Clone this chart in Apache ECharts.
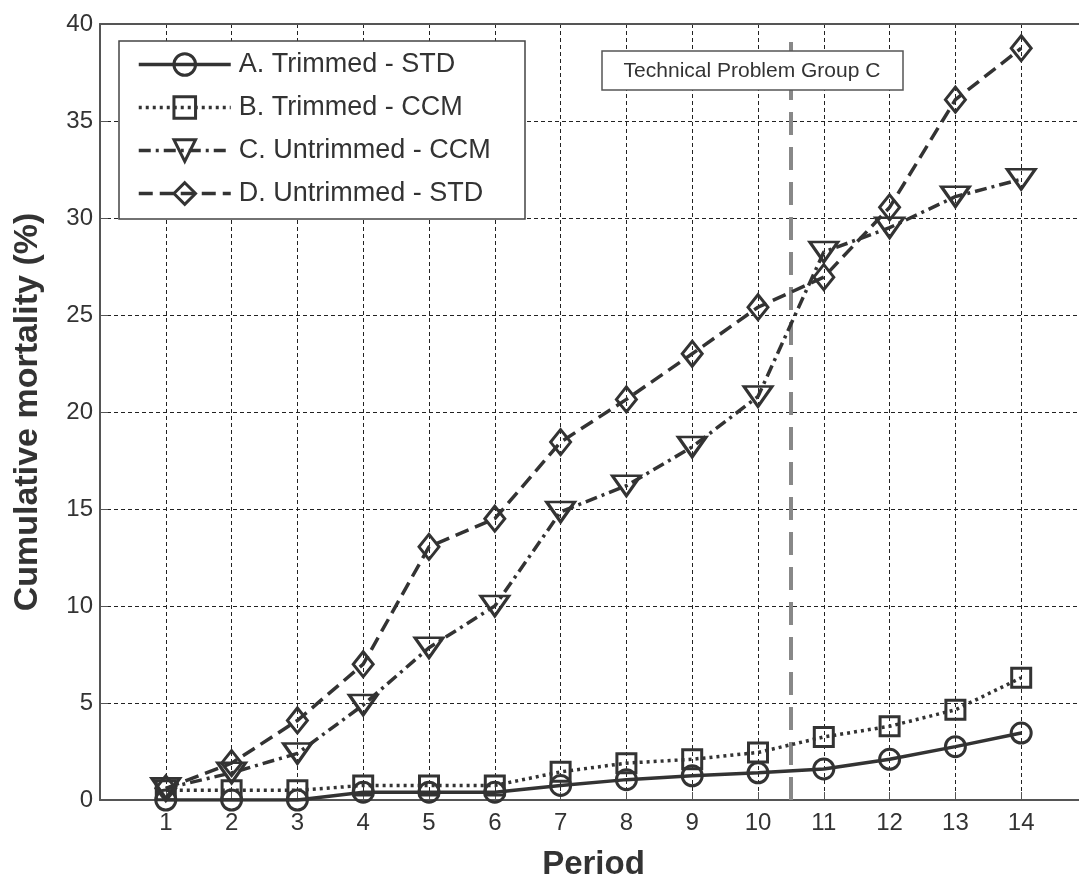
<!DOCTYPE html>
<html><head><meta charset="utf-8">
<script src="https://cdn.jsdelivr.net/npm/echarts@6/dist/echarts.min.js"></script>
<style>html,body{margin:0;padding:0;background:#fff;overflow:hidden}#c{width:1079px;height:881px}</style>
</head><body><div id="c"></div>
<script>
const periods = [1,2,3,4,5,6,7,8,9,10,11,12,13,14];
const seriesNames = ['A. Trimmed - STD','B. Trimmed - CCM','C. Untrimmed - CCM','D. Untrimmed - STD'];
const trimmedSTD   = [0,0,0,0.4,0.4,0.4,0.75,1.05,1.25,1.4,1.6,2.1,2.75,3.45];
const trimmedCCM   = [0.5,0.5,0.5,0.75,0.75,0.75,1.45,1.9,2.1,2.45,3.25,3.8,4.65,6.3];
const untrimmedCCM = [0.6,1.4,2.4,4.9,7.85,10.0,14.85,16.2,18.2,20.8,28.25,29.5,31.1,32.0];
const untrimmedSTD = [0.6,1.9,4.1,7.0,13.05,14.5,18.45,20.65,23.0,25.4,26.95,30.55,36.1,38.75];
const yTicks = [0,5,10,15,20,25,30,35,40];
const eventX = 10.5;
const eventTop = 39.2;
const eventLabel = 'Technical Problem Group C';

const ink = '#333';
const font = '"Liberation Sans", Arial, Helvetica, sans-serif';
const pairs = arr => arr.map((v,i)=>[periods[i], v]);
const X_MIN = 0, X_MAX = 15;

const chart = echarts.init(document.getElementById('c'), null, {renderer:'canvas'});
const mk = (name, data, symbol, size, dash, rot) => ({
  name, type:'line', data: pairs(data), symbol, symbolSize: size, symbolRotate: rot||0,
  showAllSymbol:true,
  lineStyle:{color:ink, width:3.5, type:dash},
  itemStyle:{color:'rgba(255,255,255,0)', borderColor:ink, borderWidth:3},
  z: 5, animation:false
});

const sA = mk(seriesNames[0], trimmedSTD, 'circle', 20, 'solid');
const sB = mk(seriesNames[1], trimmedCCM, 'rect', 19, [3,4]);
const sC = mk(seriesNames[2], untrimmedCCM, 'triangle', [28,20], [12,5,3,5], 180);
const sD = mk(seriesNames[3], untrimmedSTD, 'diamond', [20,25], [14,7]);
sA.markLine = {
  silent:true, symbol:['none','none'], animation:false,
  lineStyle:{color:'#888', width:4, type:[23,12]},
  label:{show:false},
  data:[[{coord:[eventX,0]},{coord:[eventX,eventTop]}]]
};

chart.setOption({
  animation:false,
  backgroundColor:'#fff',
  textStyle:{fontFamily:font},
  grid:{left:100, width:987, top:24, height:776, show:false, containLabel:false, outerBoundsMode:'none'},
  xAxis:[{
    type:'value', min:X_MIN, max:X_MAX, interval:1,
    name:'Period', nameLocation:'middle', nameGap:48,
    nameTextStyle:{fontSize:33, fontWeight:'bold', color:ink, fontFamily:font},
    axisLine:{show:true, onZero:false, lineStyle:{color:'#555', width:2}},
    axisTick:{show:true, inside:true, length:8, lineStyle:{color:'#555'}},
    axisLabel:{fontSize:24, color:ink, margin:11, fontFamily:font,
      formatter: v => periods.indexOf(v) >= 0 ? String(v) : ''},
    splitLine:{show:true, lineStyle:{color:'#222', width:1, type:[4,3]}}
  },{
    type:'value', position:'top', min:X_MIN, max:X_MAX, interval:1,
    axisLine:{show:true, onZero:false, lineStyle:{color:'#555', width:2}},
    axisTick:{show:false}, axisLabel:{show:false}, splitLine:{show:false}
  }],
  yAxis:{
    type:'value', min:yTicks[0], max:yTicks[yTicks.length-1], interval:5,
    name:'Cumulative mortality (%)', nameLocation:'middle', nameGap:55,
    nameTextStyle:{fontSize:34, fontWeight:'bold', color:ink, fontFamily:font},
    axisLine:{show:true, lineStyle:{color:'#555', width:2}},
    axisTick:{show:true, inside:true, length:8, lineStyle:{color:'#555'}},
    axisLabel:{fontSize:24, color:ink, margin:7, fontFamily:font},
    splitLine:{show:true, lineStyle:{color:'#222', width:1, type:[4,3]}}
  },
  legend:{
    data: seriesNames, orient:'vertical', left:137, top:51,
    itemWidth:92, itemHeight:27, itemGap:16,
    lineStyle:{width:3.5},
    itemStyle:{borderWidth:3},
    textStyle:{fontSize:27, color:ink, fontFamily:font, padding:[0,0,0,3]},
    backgroundColor:'transparent', borderWidth:0, padding:0,
    z: 20
  },
  graphic:[
    {type:'rect', shape:{x:119, y:41, width:406, height:178}, style:{fill:'#fff', stroke:'#444', lineWidth:1.5}, z:15},
    {type:'rect', shape:{x:602, y:51, width:301, height:39}, style:{fill:'#fff', stroke:'#555', lineWidth:1.5}, z:15},
    {type:'text', x:752, y:71, style:{text:eventLabel, fontSize:21, fill:ink, fontFamily:font, align:'center', verticalAlign:'middle'}, z:16}
  ],
  series:[sA,sB,sC,sD]
});
</script></body></html>
